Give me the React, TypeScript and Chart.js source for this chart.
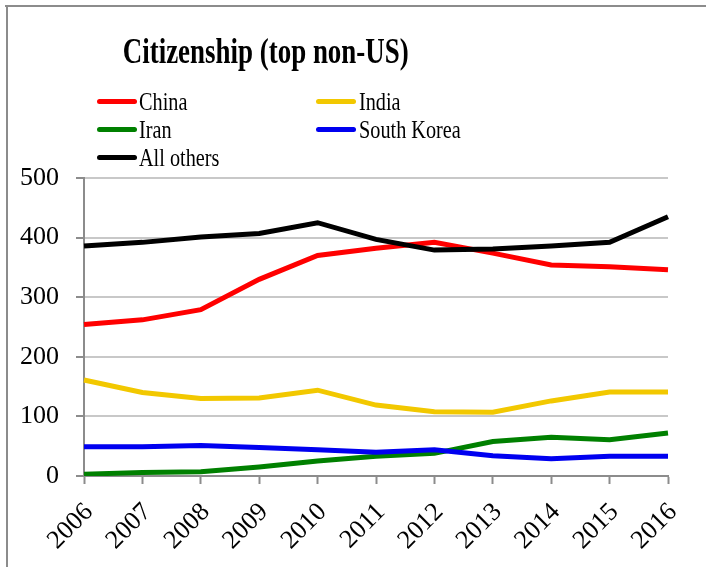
import React, { useEffect, useRef } from "react";
import { Chart, registerables } from "chart.js";

Chart.register(...registerables);

const title = "Citizenship (top non-US)";
const years = ["2006", "2007", "2008", "2009", "2010", "2011", "2012", "2013", "2014", "2015", "2016"];
const seriesNames = ["China", "India", "Iran", "South Korea", "All others"];
const seriesColors = ["#ff0000", "#f2c800", "#008000", "#0000f0", "#000000"];
const china = [254, 262, 279, 330, 370, 382, 392, 374, 354, 351, 346];
const india = [161, 140, 130, 131, 144, 119, 108, 107, 126, 141, 141];
const iran = [3, 6, 7, 15, 25, 33, 38, 58, 65, 61, 72];
const southKorea = [49, 49, 51, 48, 44, 40, 44, 34, 29, 33, 33];
const allOthers = [386, 392, 401, 407, 425, 397, 379, 381, 386, 392, 435];
const yMin = 0;
const yMax = 500;
const yStep = 100;

const seriesValues = [china, india, iran, southKorea, allOthers];

const legendPos = [
  { lineX: 97, textX: 139, top: 90 },
  { lineX: 316, textX: 359, top: 90 },
  { lineX: 97, textX: 139, top: 118 },
  { lineX: 316, textX: 359, top: 118 },
  { lineX: 97, textX: 139, top: 146 },
];

export default function App() {
  const canvasRef = useRef<HTMLCanvasElement | null>(null);

  useEffect(() => {
    const canvas = canvasRef.current;
    if (!canvas) return;
    const chart = new Chart(canvas, {
      type: "line",
      data: {
        labels: years,
        datasets: seriesNames.map((name, i) => ({
          label: name,
          data: seriesValues[i],
          borderColor: seriesColors[i],
          backgroundColor: seriesColors[i],
          borderWidth: 5,
          pointRadius: 0,
          pointHoverRadius: 0,
          tension: 0,
          fill: false,
          order: seriesNames.length - 1 - i,
        })),
      },
      options: {
        responsive: false,
        animation: false,
        devicePixelRatio: 1,
        layout: { padding: { top: 178, right: 38, left: 0, bottom: 0 } },
        plugins: {
          legend: { display: false },
          title: { display: false },
          tooltip: { enabled: false },
        },
        scales: {
          x: {
            type: "category",
            offset: false,
            afterFit: (scale: any) => {
              scale.height = 91;
              scale.paddingLeft = 0;
              scale.paddingRight = 0;
            },
            grid: {
              drawOnChartArea: false,
              drawTicks: true,
              tickLength: 8,
              tickColor: "#8c8c8c",
              tickWidth: 2,
              offset: false,
            },
            border: { color: "#8c8c8c", width: 2 },
            ticks: {
              autoSkip: false,
              minRotation: 45,
              maxRotation: 45,
              padding: 13,
              labelOffset: 5,
              color: "#000",
              font: { family: "Liberation Serif", size: 26 },
            },
          },
          y: {
            min: yMin,
            max: yMax,
            afterFit: (scale: any) => {
              scale.width = 84;
            },
            grid: {
              color: "#c8c8c8",
              lineWidth: 2,
              tickLength: 8,
              tickColor: "#8c8c8c",
              tickWidth: 2,
            },
            border: { color: "#8c8c8c", width: 2 },
            ticks: {
              stepSize: yStep,
              padding: 17,
              color: "#000",
              font: { family: "Liberation Serif", size: 26 },
            },
          },
        },
      },
    });
    return () => chart.destroy();
  }, []);

  return (
    <div
      style={{
        position: "absolute",
        left: 0,
        top: 0,
        width: 706,
        height: 567,
        background: "#fff",
        overflow: "hidden",
      }}
    >
      <canvas ref={canvasRef} width={706} height={567} style={{ position: "absolute", left: 0, top: 0, width: 706, height: 567 }} />
      <div style={{ position: "absolute", left: 5, top: 5, width: 701, height: 2, background: "#8c8c8c" }} />
      <div style={{ position: "absolute", left: 6, top: 5, width: 2, height: 562, background: "#8c8c8c" }} />
      <div
        style={{
          position: "absolute",
          left: 0,
          top: 34,
          width: 531,
          textAlign: "center",
          fontFamily: "Liberation Serif",
          fontWeight: "bold",
          fontSize: 35,
          lineHeight: "35px",
          whiteSpace: "nowrap",
        }}
      >
        <span style={{ display: "inline-block", transform: "scaleX(0.77)", transformOrigin: "center" }}>{title}</span>
      </div>
      {seriesNames.map((name, i) => (
        <React.Fragment key={name}>
          <div
            style={{
              position: "absolute",
              left: legendPos[i].lineX,
              top: legendPos[i].top + 8.5,
              width: 40,
              height: 5,
              borderRadius: 3,
              background: seriesColors[i],
            }}
          />
          <div
            style={{
              position: "absolute",
              left: legendPos[i].textX,
              top: legendPos[i].top,
              fontFamily: "Liberation Serif",
              fontSize: 25,
              lineHeight: "24px",
              whiteSpace: "nowrap",
              transform: "scaleX(0.81)",
              transformOrigin: "left",
            }}
          >
            {name}
          </div>
        </React.Fragment>
      ))}
    </div>
  );
}
